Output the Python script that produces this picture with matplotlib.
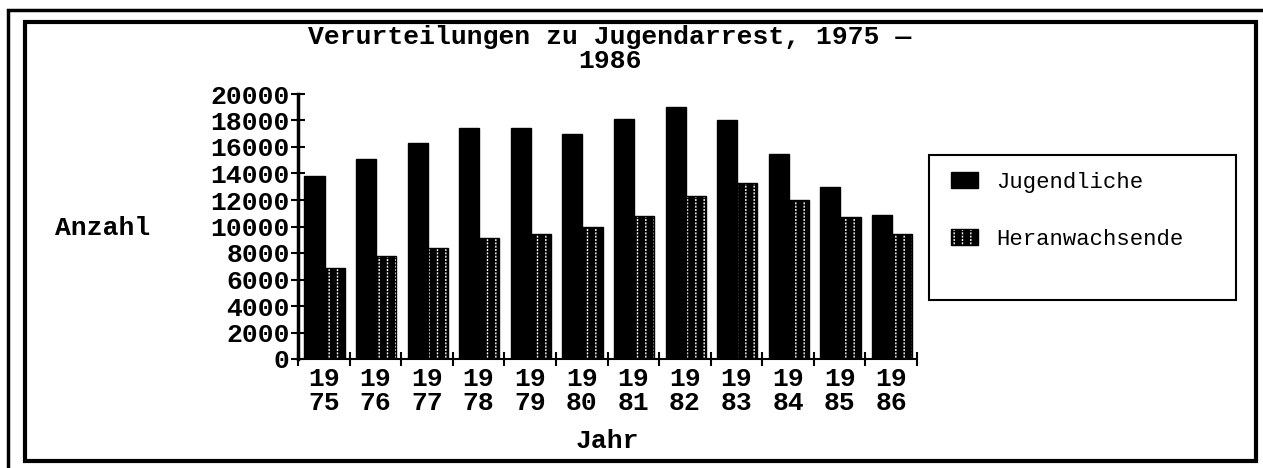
import numpy as np
import matplotlib
matplotlib.use("Agg")
import matplotlib.pyplot as plt
from matplotlib.patches import Rectangle, Patch

# data
years = ["1975", "1976", "1977", "1978", "1979", "1980",
         "1981", "1982", "1983", "1984", "1985", "1986"]
jugendliche = [13800, 15100, 16300, 17400, 17400, 17000,
               18100, 19000, 18000, 15500, 13000, 10900]
heranwachsende = [6900, 7800, 8400, 9100, 9400, 10000,
                  10800, 12300, 13300, 12000, 10700, 9400]
yticks = list(range(0, 20001, 2000))

FONT = "Liberation Mono"
FS = 19

plt.rcParams['hatch.linewidth'] = 1.0

W, H = 1263, 468
fig = plt.figure(figsize=(W / 100, H / 100), dpi=100)

def px(x0, y0):
    return x0 / W, 1 - y0 / H

# double frame around the whole chart
fig.patches.append(Rectangle(px(8, 475), (1280 - 8) / W, (475 - 10) / H,
                             transform=fig.transFigure, fill=False,
                             lw=2.5, ec="black"))
fig.patches.append(Rectangle(px(25, 461), (1256 - 25) / W, (461 - 22) / H,
                             transform=fig.transFigure, fill=False,
                             lw=3, ec="black"))

ax = fig.add_axes([298 / W, 1 - 359 / H, (917 - 298) / W, (359 - 94) / H])

x = np.arange(len(years))
bw = 0.39
ax.bar(x - 0.18, jugendliche, bw, color="black", edgecolor="black",
       lw=1, label="Jugendliche")
# black bar with columns of small white dashes: white vertical hatch,
# cut up by black horizontal hatch on top
ax.bar(x + 0.21, heranwachsende, bw, color="black", edgecolor="white",
       hatch="||", lw=0)
ax.bar(x + 0.21, heranwachsende, bw, color="none", edgecolor="black",
       hatch="-----", lw=1)

ax.set_xlim(-0.5, len(years) - 0.5)
ax.set_ylim(0, 20000)
ax.set_yticks(yticks)
ax.set_yticklabels([str(v) for v in yticks], fontfamily=FONT,
                   fontweight="bold", fontsize=FS)

# tick marks at group borders, labels at group centres
ax.set_xticks(np.arange(-0.5, len(years), 1.0))
ax.set_xticklabels([])
ax.set_xticks(x, minor=True)
ax.set_xticklabels([y[:2] + "\n" + y[2:] for y in years], minor=True,
                   fontfamily=FONT, fontweight="bold", fontsize=FS,
                   linespacing=1.0)
ax.tick_params(axis="x", which="minor", length=0, pad=6)
ax.tick_params(axis="both", which="major", direction="inout",
               length=10, width=1.5)
ax.tick_params(axis="y", pad=1)

for s in ["top", "right"]:
    ax.spines[s].set_visible(False)
ax.spines["left"].set_linewidth(2.5)
ax.spines["bottom"].set_linewidth(1.5)

fig.text(610 / W, 1 - 49 / H, "Verurteilungen zu Jugendarrest, 1975 \u2014\n1986",
         ha="center", va="center", fontfamily=FONT, fontweight="bold",
         fontsize=FS, linespacing=1.0)
fig.text(55 / W, 1 - 228 / H, "Anzahl", ha="left", va="center",
         fontfamily=FONT, fontweight="bold", fontsize=FS)
fig.text(607 / W, 1 - 441 / H, "Jahr", ha="center", va="center",
         fontfamily=FONT, fontweight="bold", fontsize=FS)

# legend box
fig.patches.append(Rectangle(px(929, 300), (1236 - 929) / W, (300 - 155) / H,
                             transform=fig.transFigure, fill=False,
                             lw=1.5, ec="black"))
handles = [Patch(facecolor="black", edgecolor="black"),
           (Patch(facecolor="black", edgecolor="white", hatch="||", lw=0),
            Patch(facecolor="none", edgecolor="black", hatch="-----"))]
leg = fig.legend(handles=handles, labels=["Jugendliche", "Heranwachsende"],
                 loc="upper left", bbox_to_anchor=px(951, 172),
                 frameon=False, prop={"family": FONT, "size": 16},
                 handlelength=1.2, handleheight=0.75, labelspacing=1.6,
                 borderpad=0, handletextpad=0.85, borderaxespad=0)

fig.savefig("out.png", dpi=100)
